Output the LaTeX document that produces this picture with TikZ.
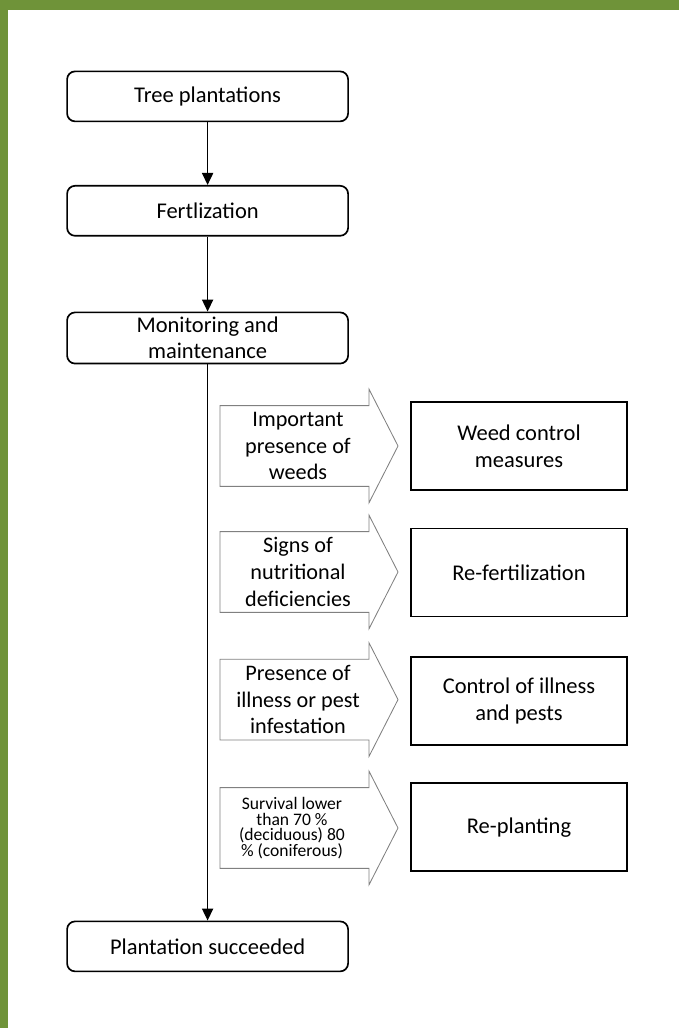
\documentclass[tikz,border=0pt]{standalone}
\usepackage{fontspec}
\setmainfont{Carlito}
\usetikzlibrary{arrows.meta,positioning}

\definecolor{framegreen}{RGB}{111,147,57}
\definecolor{signgray}{RGB}{128,128,128}

\tikzset{
  stepbox/.style={draw, line width=1.2pt, rounded corners=0.2cm, minimum width=7.025cm,
                  minimum height=1.25cm, align=center, font=\fontsize{16}{18.5}\selectfont},
  actbox/.style={draw, line width=1.2pt, minimum width=5.4cm, minimum height=2.2cm,
                 align=center, font=\fontsize{16}{19}\selectfont},
  signarrow/.style={draw=signgray, line width=0.6pt},
  signtext/.style={align=center, font=\fontsize{15.8}{19}\selectfont},
  flow/.style={line width=0.9pt, -{Triangle[width=0.28cm,length=0.3cm]}}
}

\begin{document}
\begin{tikzpicture}
  \useasboundingbox (0,0) rectangle (16.975,25.7);
  \fill[framegreen] (0,25.45) rectangle (16.975,25.7);      % green band at top
  \fill[framegreen] (0,0) rectangle (0.2,25.7);             % green band at left

  \node[stepbox] (tree)    at (5.19,23.29) {Tree plantations};
  \node[stepbox] (fert)    at (5.19,20.43) {Fertlization};
  \node[stepbox] (monit)   at (5.19,17.25) {Monitoring and\\maintenance};
  \node[stepbox] (success) at (5.19,2.04)  {Plantation succeeded};

  \draw[flow] (tree) -- (fert);
  \draw[flow] (fert) -- (monit);
  \draw[flow] (monit) -- (success);                         % main line down

  % sign arrows
  \draw[signarrow] (5.5,15.56) -- (9.225,15.56) -- (9.225,15.97) -- (9.95,14.55)
                   -- (9.225,13.13) -- (9.225,13.54) -- (5.5,13.54) -- cycle;
  \draw[signarrow] (5.5,12.41) -- (9.225,12.41) -- (9.225,12.82) -- (9.95,11.4)
                   -- (9.225,9.98) -- (9.225,10.39) -- (5.5,10.39) -- cycle;
  \draw[signarrow] (5.5,9.22) -- (9.225,9.22) -- (9.225,9.63) -- (9.95,8.21)
                   -- (9.225,6.79) -- (9.225,7.2) -- (5.5,7.2) -- cycle;
  \draw[signarrow] (5.5,6.01) -- (9.225,6.01) -- (9.225,6.42) -- (9.95,5.0)
                   -- (9.225,3.58) -- (9.225,3.99) -- (5.5,3.99) -- cycle;

  \node[signtext] (weedsign)  at (7.45,14.55) {Important\\presence of\\weeds};
  \node[signtext] (nutrisign) at (7.45,11.4)  {Signs of\\nutritional\\deficiencies};
  \node[signtext] (illsign)   at (7.45,8.21)  {Presence of\\illness or pest\\infestation};
  \node[signtext, font=\fontsize{12.5}{11}\selectfont] (survsign) at (7.3,5.0)
       {Survival lower\\than 70 \%\\(deciduous) 80\\\% (coniferous)};

  % measures
  \node[actbox] (weedctl) at (12.975,14.55) {Weed control\\measures};
  \node[actbox] (refert)  at (12.975,11.39) {Re-fertilization};
  \node[actbox] (illctl)  at (12.975,8.18)  {Control of illness\\and pests};
  \node[actbox] (replant) at (12.975,5.02)  {Re-planting};
\end{tikzpicture}
\end{document}
